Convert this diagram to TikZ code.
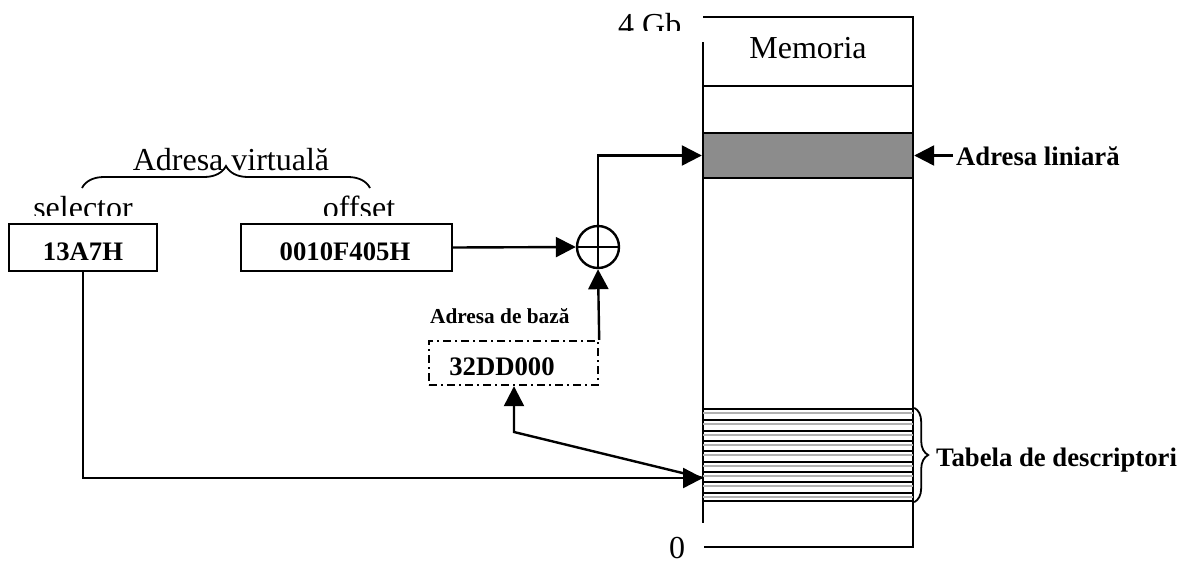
\documentclass[tikz,border=0pt]{standalone}
\usepackage{fontspec}
\setmainfont{Liberation Serif}
\usetikzlibrary{arrows.meta,decorations.pathreplacing}
\begin{document}
\begin{tikzpicture}[x=1pt,y=-1pt, line width=2.4pt,
  box/.style={draw, rectangle, inner sep=0pt},
  reg/.style={font=\fontsize{32}{36}\selectfont, inner sep=0pt},
  bld/.style={font=\bfseries\fontsize{26.7}{30}\selectfont, inner sep=0pt},
  sml/.style={font=\bfseries\fontsize{21.3}{24}\selectfont, inner sep=0pt},
  arr/.style={-{Triangle[length=20pt,width=20pt]}},
  dashdot/.style={dash pattern=on 8pt off 4pt on 2pt off 4pt},
  brc/.style={decorate, line width=1.8pt},
  ]
\useasboundingbox (0,0) rectangle (1189,563);

% boxes
\node[box, minimum width=148pt, minimum height=47pt] (sel) at (83,247.5) {};
\node[bld, anchor=base] (seltxt) at (83,260) {13A7H};
\node[box, minimum width=211pt, minimum height=47pt] (off) at (346.5,247.5) {};
\node[bld, anchor=base] (offtxt) at (345,260) {0010F405H};

% labels above boxes
\begin{scope}
\clip (0,150) rectangle (460,215);
\node[reg, anchor=base] (selname) at (83,218) {selector};
\node[reg, anchor=base] (offname) at (359,218) {offset};
\end{scope}
\node[reg, anchor=base] (virt) at (231,170) {Adresa virtuală};
\draw[brc, decoration={brace, amplitude=22pt}] (82,188) -- (370,188);

% adder
\node[draw, circle, minimum size=42pt, inner sep=0pt] (sum) at (598,247) {};
\draw (sum.north) -- (sum.south);
\draw (sum.west) -- (sum.east);

% base address
\node[box, dashdot, minimum width=169pt, minimum height=44pt] (base) at (513.5,363) {};
\node[bld, anchor=base] (basetxt) at (502,375) {32DD000};
\node[sml, anchor=base west] (basename) at (429,323) {Adresa de bază};

% memory
\coordinate (mTL) at (703,17);
\coordinate (mTR) at (913,17);
\coordinate (mBR) at (913,547);
\coordinate (mBL) at (704,547);
\coordinate (mL1) at (703,42);
\coordinate (mL2) at (703,523);
\draw (mL1) -- (mL2);
\draw (mTL) -- (mTR) -- (mBR) -- (mBL);
\coordinate (sepL) at (703,86);
\coordinate (sepR) at (913,86);
\draw (sepL) -- (sepR);
\node[reg, anchor=base] (memtxt) at (808,58) {Memoria};
\begin{scope}
\clip (600,0) rectangle (700,30);
\node[reg, anchor=base west] (gb) at (617,35) {4 Gb};
\end{scope}
\node[reg, anchor=base] (zero) at (677,558) {0};

% linear address band
\node[draw, fill=black!45, minimum width=210pt, minimum height=45pt, inner sep=0pt] (lin) at (808,155.5) {};
\node[bld, anchor=base west] (lintxt) at (955,165) {Adresa liniară};
\coordinate (linsrc) at (953,155.5);
\draw[arr] (linsrc) -- (lin.east);

% descriptor table
\node[draw, minimum width=210pt, minimum height=92pt, inner sep=0pt] (tab) at (808,455) {};
\foreach \y in {409,420,431,441,451,462,472,482,493} {
  \draw[black!30, line width=1.5pt] (703,{\y+4}) -- (913,{\y+4});
}
\foreach \y in {420,431,441,451,462,472,482,493} {
  \draw (703,\y) -- (913,\y);
}
\draw[brc, decoration={brace, amplitude=14pt}] (tab.north east) -- (tab.south east);
\node[bld, anchor=base west] (tabtxt) at (935,466) {Tabela de descriptori};

% connectors
\draw[arr] (off.east) -- (sum.west);
\draw[arr] (base.north east) -- (sum.south);
\draw[arr] (sum.north) |- (lin.west);
\coordinate (tabin) at (703,478);
\coordinate (bend) at (514,432);
\draw[arr] (sel.south) |- (tabin);
\draw[arr] (tabin) -- (bend) -- (bend |- base.south);
\end{tikzpicture}
\end{document}
